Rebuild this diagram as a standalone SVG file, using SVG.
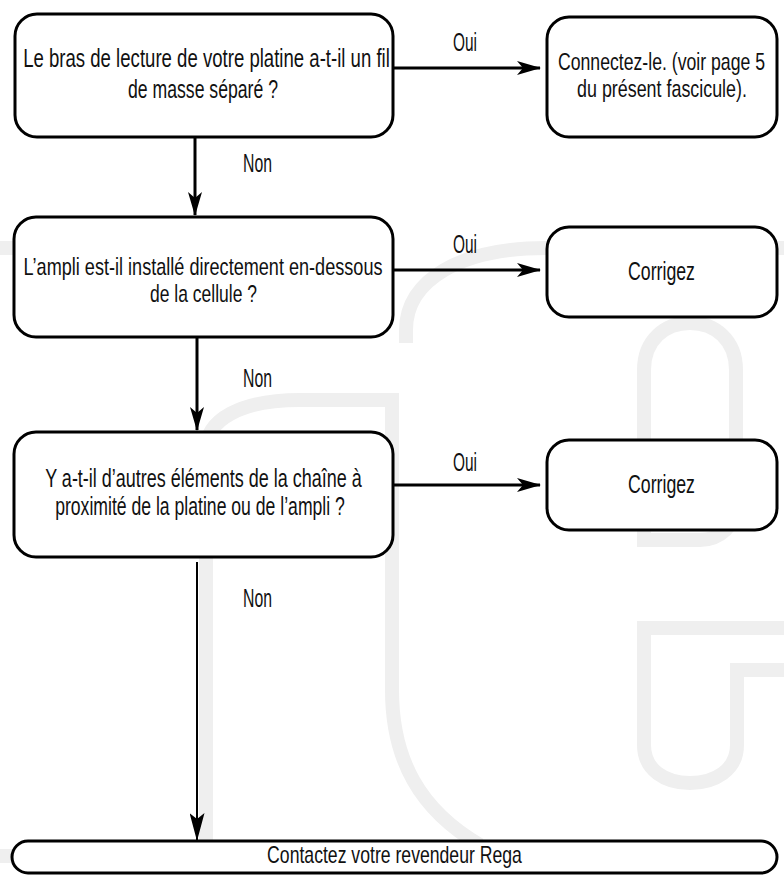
<svg xmlns="http://www.w3.org/2000/svg" width="784" height="879" viewBox="0 0 784 879">
<style>
.bg{fill:#ffffff}
.wm{fill:none;stroke:#efefef;stroke-width:14}
.box{fill:#ffffff;stroke:#000000;stroke-width:3}
.t{font-family:"Liberation Sans",Arial,sans-serif;font-size:25px;fill:#111111;text-anchor:middle}
.s24{font-size:24px}
.s23{font-size:23px}
.edge{fill:none;stroke:#000000;stroke-width:3}
.edge2{fill:none;stroke:#000000;stroke-width:2}
</style>
<defs>
<marker id="ah" viewBox="0 0 24 14" refX="23" refY="7" markerWidth="24" markerHeight="14" markerUnits="userSpaceOnUse" orient="auto">
<path d="M0,0 L24,7 L0,14 L6,7 z" fill="#000000"/>
</marker>
<marker id="ah2" viewBox="0 0 28 15" refX="27" refY="7.5" markerWidth="28" markerHeight="15" markerUnits="userSpaceOnUse" orient="auto">
<path d="M0,0 L28,7.5 L0,15 L6,7.5 z" fill="#000000"/>
</marker>
</defs>
<rect class="bg" x="0" y="0" width="784" height="879"/>
<g id="watermark">
<path class="wm" d="M406 343 L406 330 C406 280 460 248 547 248 L784 248"/>
<path class="wm" d="M0 248 H14"/>
<path class="wm" d="M206 845 V450 C206 420 240 400 300 400 L392 400 V690 C392 760 420 810 480 845"/>
<path class="wm" d="M644 547 V370 C644 340 665 323 690 323 C715 323 736 340 736 370 V505 C736 525 720 540 700 540 H644"/>
<path class="wm" d="M784 628 H644 V745 C644 770 665 783 690 783 C715 783 737 770 737 745 V670 H784"/>
<path class="wm" d="M0 856 H13"/>
</g>
<g id="connectors">
<path class="edge" d="M393 68 H540" marker-end="url(#ah)"/>
<path class="edge" d="M195 137 V215" marker-end="url(#ah)"/>
<path class="edge" d="M393 270 H540" marker-end="url(#ah)"/>
<path class="edge" d="M197 337 V430" marker-end="url(#ah)"/>
<path class="edge" d="M393 485 H540" marker-end="url(#ah)"/>
<path class="edge2" d="M197 562 V840" marker-end="url(#ah2)"/>
<text class="t" transform="translate(465,51) scale(0.617,1)">Oui</text>
<text class="t" transform="translate(257.5,172) scale(0.632,1)">Non</text>
<text class="t" transform="translate(465,253) scale(0.617,1)">Oui</text>
<text class="t" transform="translate(257.5,387) scale(0.632,1)">Non</text>
<text class="t" transform="translate(465,471) scale(0.617,1)">Oui</text>
<text class="t" transform="translate(257.5,607) scale(0.632,1)">Non</text>
</g>
<g id="q1">
<rect class="box" x="15" y="14" width="378" height="123" rx="22"/>
<text class="t" transform="translate(206.5,67) scale(0.744,1)">Le bras de lecture de votre platine a-t-il un fil</text>
<text class="t" transform="translate(203,98) scale(0.706,1)">de masse séparé ?</text>
</g>
<g id="a1">
<rect class="box" x="547" y="17" width="230" height="120" rx="22"/>
<text class="t s24" transform="translate(661.5,70) scale(0.736,1)">Connectez-le. (voir page 5</text>
<text class="t s24" transform="translate(662,97) scale(0.745,1)">du présent fascicule).</text>
</g>
<g id="q2">
<rect class="box" x="14" y="217" width="379" height="120" rx="22"/>
<text class="t s24" transform="translate(203,275) scale(0.754,1)">L’ampli est-il installé directement en-dessous</text>
<text class="t s24" transform="translate(203.5,302) scale(0.729,1)">de la cellule ?</text>
</g>
<g id="a2">
<rect class="box" x="547" y="227" width="230" height="90" rx="22"/>
<text class="t" transform="translate(661.5,280) scale(0.709,1)">Corrigez</text>
</g>
<g id="q3">
<rect class="box" x="14" y="432" width="379" height="125" rx="22"/>
<text class="t" transform="translate(203.5,487) scale(0.72,1)">Y a-t-il d’autres éléments de la chaîne à</text>
<text class="t" transform="translate(200,515) scale(0.705,1)">proximité de la platine ou de l’ampli ?</text>
</g>
<g id="a3">
<rect class="box" x="547" y="440" width="230" height="90" rx="22"/>
<text class="t" transform="translate(661.5,493) scale(0.709,1)">Corrigez</text>
</g>
<g id="end">
<rect class="box" x="12" y="841" width="765" height="32" rx="16"/>
<text class="t s23" transform="translate(394.5,863) scale(0.767,1)">Contactez votre revendeur Rega</text>
</g>
</svg>
